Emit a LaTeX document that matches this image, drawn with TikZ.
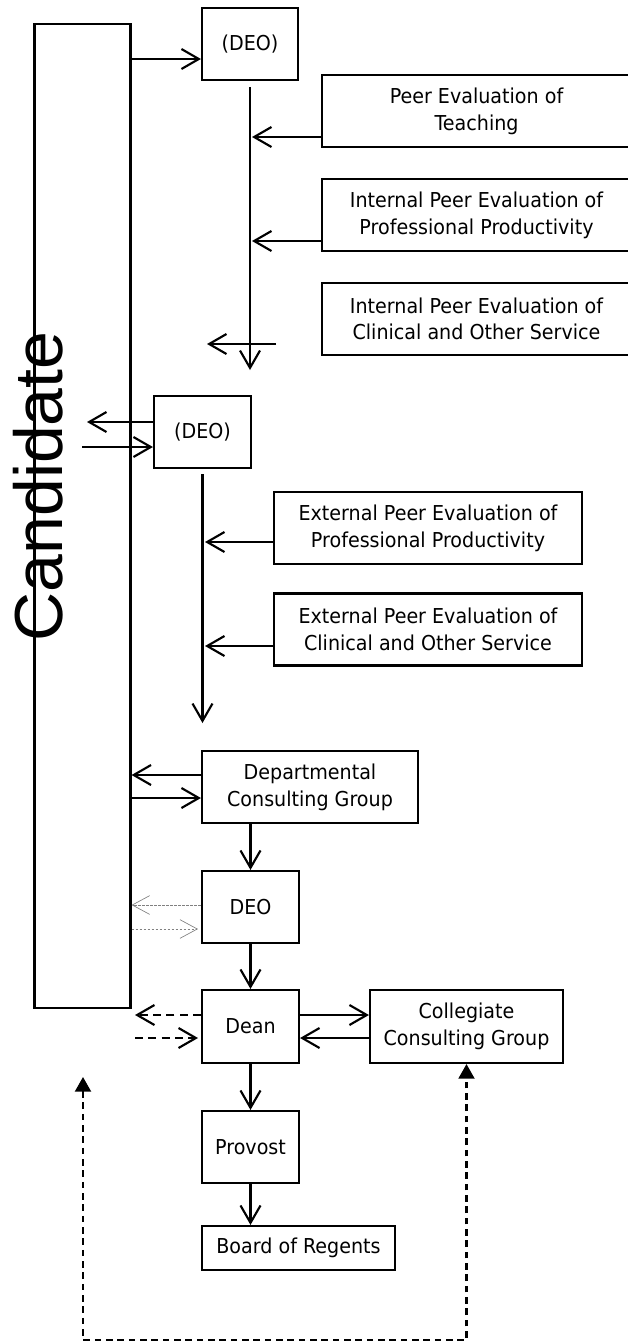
\documentclass[tikz,border=0pt]{standalone}
\usepackage{fontspec}
\setmainfont{DejaVu Sans}[FakeStretch=0.93]
\newfontfamily\candfont{Liberation Sans}
\usetikzlibrary{arrows.meta}
\begin{document}
\begin{tikzpicture}[x=0.75pt,y=-0.75pt,
  box/.style={draw, line width=1.6pt, inner sep=0pt, align=center, font=\fontsize{15.4}{20}\selectfont},
  arr/.style={line width=1.6pt, -{Straight Barb[length=13pt,width=15pt]}},
  thinarr/.style={line width=0.5pt, gray, dash pattern=on 2pt off 1pt, -{Straight Barb[length=13pt,width=14pt]}},
  dasharr/.style={line width=1.6pt, dash pattern=on 6pt off 4pt, -{Straight Barb[length=13pt,width=15pt]}},
  bigdash/.style={line width=1.6pt, dash pattern=on 5pt off 3.5pt, {Triangle[length=11pt,width=12pt]}-{Triangle[length=11pt,width=12pt]}}
]
\useasboundingbox (0,0) rectangle (628,1343);

% nodes
\node[box, minimum width=72pt, minimum height=738pt] (cand) at (82.5,516) {};
\node[anchor=base, rotate=90, inner sep=0pt, font=\candfont\fontsize{51}{51}\selectfont] (candtxt) at (62,486.5) {Candidate};

\node[box, minimum width=72pt, minimum height=54pt] (deo1) at (250,44) {(DEO)};
\node[box, minimum width=231.75pt, minimum height=54pt] (peer1) at (476.5,111) {Peer Evaluation of\\Teaching};
\node[box, minimum width=231.75pt, minimum height=54pt] (peer2) at (476.5,215) {Internal Peer Evaluation of\\Professional Productivity};
\node[box, minimum width=231.75pt, minimum height=54pt] (peer3) at (476.5,319) {Internal Peer Evaluation of\\Clinical and Other Service};

\node[box, minimum width=72.75pt, minimum height=54pt] (deo2) at (202.5,432) {(DEO)};
\node[box, minimum width=231pt, minimum height=54pt] (ext1) at (428,528) {External Peer Evaluation of\\Professional Productivity};
\node[box, minimum width=231pt, minimum height=54pt] (ext2) at (428,629.5) {External Peer Evaluation of\\Clinical and Other Service};

\node[box, minimum width=162pt, minimum height=54pt] (dcg) at (310,787) {Departmental\\Consulting Group};
\node[box, minimum width=72.75pt, minimum height=54pt] (deo3) at (250.5,907) {DEO};
\node[box, minimum width=72.75pt, minimum height=54.75pt] (dean) at (250.5,1026.5) {Dean};
\node[box, minimum width=144.75pt, minimum height=54.75pt] (ccg) at (466.5,1026.5) {Collegiate\\Consulting Group};
\node[box, minimum width=72.75pt, minimum height=54pt] (prov) at (250.5,1147) {Provost};
\node[box, minimum width=144.75pt, minimum height=33pt] (bor) at (298.5,1248) {Board of Regents};

% free ends
\coordinate (v1e) at (250,370);
\coordinate (t1) at (252,137);
\coordinate (t2) at (252,241);
\coordinate (xa) at (276,344);
\coordinate (xb) at (207,344);
\coordinate (d2l) at (87,422);
\coordinate (d2r) at (82,447);
\coordinate (v2e) at (202.5,723);
\coordinate (t3) at (205,542);
\coordinate (t4) at (205,646);
\coordinate (dt) at (198,929);
\coordinate (dl) at (135,1015);
\coordinate (dr) at (135,1038);
\coordinate (dr2) at (198,1038);
\coordinate (fb1) at (83,1077);
\coordinate (fb2) at (83,1340);
\coordinate (fb3) at (466.5,1340);

% connectors
\draw[arr] (cand.east |- 0,59) -- (deo1.west |- 0,59);
\draw[arr] ([yshift=-4.5pt]deo1.south) -- (v1e);
\draw[arr] (peer1.west |- 0,137) -- (t1);
\draw[arr] (peer2.west |- 0,241) -- (t2);
\draw[arr] (xa) -- (xb);

\draw[arr] (deo2.west |- 0,422) -- (d2l);
\draw[arr] (d2r) -- (deo2.west |- 0,447);
\draw[arr] ([yshift=-3.75pt]deo2.south) -- (v2e);
\draw[arr] (ext1.west |- 0,542) -- (t3);
\draw[arr] (ext2.west |- 0,646) -- (t4);

\draw[arr] (dcg.west |- 0,775) -- (cand.east |- 0,775);
\draw[arr] (cand.east |- 0,798) -- (dcg.west |- 0,798);
\draw[arr] (deo3.north |- dcg.south) -- (deo3.north);

\draw[thinarr] (deo3.west |- 0,905) -- (cand.east |- 0,905);
\draw[thinarr] (cand.east |- 0,929) -- (dt);
\draw[arr] (deo3.south) -- (dean.north);

\draw[dasharr] (dean.west |- 0,1015) -- (dl);
\draw[dasharr] (dr) -- (dr2);
\draw[arr] (dean.east |- 0,1015) -- (ccg.west |- 0,1015);
\draw[arr] (ccg.west |- 0,1038) -- (dean.east |- 0,1038);

\draw[arr] (dean.south) -- (prov.north);
\draw[arr] (prov.south) -- (prov.south |- bor.north);

\draw[bigdash] (fb1) -- (fb2) -- (fb3) -- (ccg.south);
\end{tikzpicture}
\end{document}
